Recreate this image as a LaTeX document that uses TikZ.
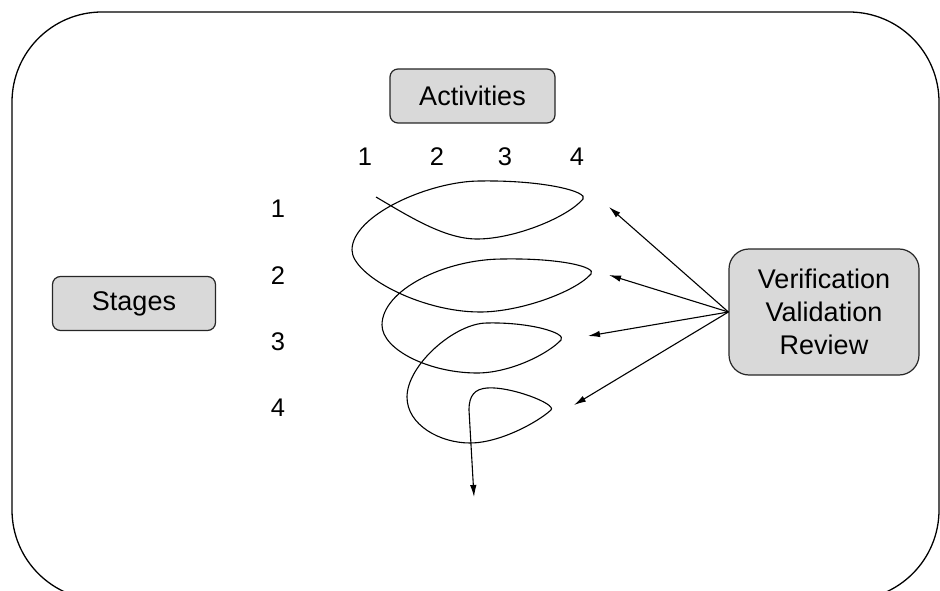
\documentclass[tikz,border=0pt]{standalone}
\usepackage{fontspec}
\setmainfont{Liberation Sans}
\usetikzlibrary{arrows.meta}

\begin{document}
\begin{tikzpicture}[x=1pt,y=-1pt,
    box/.style={draw=black!85,fill=black!15,line width=1.2pt,rounded corners=8pt,
      font=\fontsize{27}{33}\selectfont},
    num/.style={font=\fontsize{25.5}{30}\selectfont},
    tip/.style={-{Latex[length=12pt,width=6.5pt]},line width=1.1pt}]
  \useasboundingbox (0,0) rectangle (940,591);
  \draw[line width=1.3pt,rounded corners=90pt] (12,12) rectangle (939,600);
  % boxes
  \node[box,minimum width=165,minimum height=54] (act) at (472.5,96) {Activities};
  \node[box,minimum width=163,minimum height=54] (stg) at (134,303.5) {Stages};
  \node[box,minimum width=190,minimum height=126,rounded corners=20pt,align=center] (vvr) at (824,312) {Verification\\Validation\\Review};
  % column numbers
  \node[num] (c1) at (365,157) {1};
  \node[num] (c2) at (437,157) {2};
  \node[num] (c3) at (505,157) {3};
  \node[num] (c4) at (577,157) {4};
  % row numbers
  \node[num] (r1) at (278,209) {1};
  \node[num] (r2) at (278,276) {2};
  \node[num] (r3) at (278,342) {3};
  \node[num] (r4) at (278,408) {4};
  % spiral
  \coordinate (s0) at (376,197);
  \coordinate (e0) at (474,497);
  \draw[tip] (s0) .. controls (410,217) and (445,239) .. (477,239)
    .. controls (515,239) and (568,217) .. (583,199)
    .. controls (589,192) and (545,180) .. (480,181)
    .. controls (430,181) and (352,215) .. (352,250)
    .. controls (352,275) and (420,312) .. (480,312)
    .. controls (520,312) and (575,292) .. (591,274)
    .. controls (597,267) and (560,258) .. (503,259)
    .. controls (445,259) and (382,290) .. (382,325)
    .. controls (382,350) and (430,373) .. (477,373)
    .. controls (510,373) and (548,354) .. (561,340)
    .. controls (567,333) and (530,322) .. (487,323)
    .. controls (455,323) and (407,365) .. (407,397)
    .. controls (407,425) and (440,443) .. (470,443)
    .. controls (500,443) and (538,422) .. (551,410)
    .. controls (557,404) and (510,386) .. (487,388)
    .. controls (475,389) and (469,395) .. (469,410)
    -- (e0);
  % arrows to the loops
  \coordinate (t1) at (609,207);
  \coordinate (t2) at (609,275);
  \coordinate (t3) at (588,336);
  \coordinate (t4) at (574,405);
  \draw[tip] (vvr.west) -- (t1);
  \draw[tip] (vvr.west) -- (t2);
  \draw[tip] (vvr.west) -- (t3);
  \draw[tip] (vvr.west) -- (t4);
\end{tikzpicture}
\end{document}
